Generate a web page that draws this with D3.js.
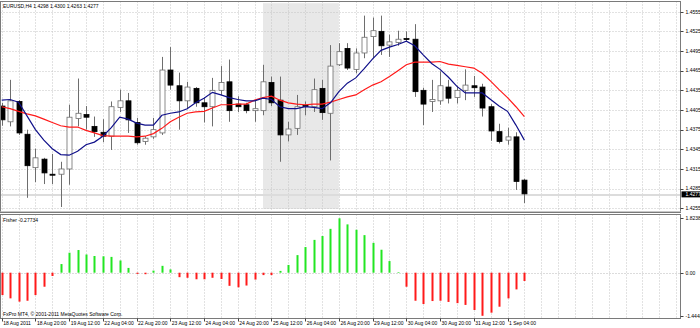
<!DOCTYPE html>
<html>
<head>
<meta charset="utf-8">
<script src="https://d3js.org/d3.v7.min.js"></script>
<style>
  body { margin: 0; background: #fff; }
  svg text { font-family: "Liberation Sans", Arial, sans-serif; font-size: 5px; fill: #000; }
</style>
</head>
<body>
<svg id="chart" width="700" height="328"></svg>
<script>
// EURUSD H4 candles, 18 Aug - 1 Sep 2011
const opens = [1.4411, 1.4387, 1.4418, 1.4368, 1.4317, 1.4330, 1.4307, 1.4307, 1.4315, 1.4392, 1.4398, 1.4380, 1.4371, 1.4365, 1.4409, 1.4419, 1.4386, 1.4357, 1.4364, 1.4370, 1.4466, 1.4442, 1.4419, 1.4438, 1.4416, 1.4410, 1.4435, 1.4448, 1.4414, 1.4413, 1.4404, 1.4404, 1.4447, 1.4420, 1.4367, 1.4377, 1.4412, 1.4410, 1.4438, 1.4400, 1.4474, 1.4499, 1.4467, 1.4492, 1.4517, 1.4525, 1.4504, 1.4508, 1.4514, 1.4513, 1.4435, 1.4418, 1.4419, 1.4440, 1.4424, 1.4435, 1.4442, 1.4440, 1.4410, 1.4372, 1.4359, 1.4364, 1.4298];
const highs = [1.4416, 1.4451, 1.4420, 1.4375, 1.4346, 1.4332, 1.4338, 1.4326, 1.4413, 1.4453, 1.4411, 1.4395, 1.4391, 1.4418, 1.4436, 1.4431, 1.4393, 1.4365, 1.4393, 1.4486, 1.4501, 1.4462, 1.4448, 1.4440, 1.4424, 1.4454, 1.4472, 1.4482, 1.4426, 1.4416, 1.4420, 1.4474, 1.4456, 1.4456, 1.4387, 1.4428, 1.4418, 1.4453, 1.4451, 1.4504, 1.4507, 1.4507, 1.4499, 1.4549, 1.4546, 1.4549, 1.4520, 1.4526, 1.4525, 1.4536, 1.4439, 1.4451, 1.4464, 1.4451, 1.4442, 1.4467, 1.4457, 1.4445, 1.4414, 1.4384, 1.4378, 1.4371, 1.4300];
const lows = [1.4381, 1.4380, 1.4367, 1.4271, 1.4295, 1.4292, 1.4292, 1.4257, 1.4291, 1.4380, 1.4375, 1.4364, 1.4356, 1.4344, 1.4402, 1.4370, 1.4352, 1.4352, 1.4361, 1.4367, 1.4436, 1.4375, 1.4408, 1.4410, 1.4386, 1.4380, 1.4428, 1.4387, 1.4402, 1.4400, 1.4387, 1.4397, 1.4411, 1.4326, 1.4357, 1.4367, 1.4397, 1.4402, 1.4390, 1.4328, 1.4472, 1.4466, 1.4461, 1.4484, 1.4484, 1.4489, 1.4486, 1.4503, 1.4510, 1.4425, 1.4382, 1.4402, 1.4413, 1.4415, 1.4415, 1.4420, 1.4425, 1.4395, 1.4358, 1.4354, 1.4352, 1.4283, 1.4263];
const closes = [1.4390, 1.4419, 1.4370, 1.4320, 1.4332, 1.4309, 1.4306, 1.4315, 1.4394, 1.4400, 1.4394, 1.4372, 1.4365, 1.4410, 1.4419, 1.4390, 1.4355, 1.4362, 1.4375, 1.4466, 1.4443, 1.4419, 1.4440, 1.4416, 1.4410, 1.4435, 1.4447, 1.4404, 1.4410, 1.4404, 1.4407, 1.4448, 1.4416, 1.4367, 1.4376, 1.4410, 1.4411, 1.4436, 1.4401, 1.4472, 1.4494, 1.4469, 1.4492, 1.4516, 1.4526, 1.4503, 1.4509, 1.4513, 1.4513, 1.4433, 1.4414, 1.4421, 1.4442, 1.4423, 1.4435, 1.4443, 1.4439, 1.4408, 1.4373, 1.4357, 1.4364, 1.4296, 1.4277];

// moving averages as drawn on the chart
const maFast = [1.4420, 1.4421, 1.4417, 1.4396, 1.4375, 1.4359, 1.4346, 1.4337, 1.4336, 1.4342, 1.4352, 1.4356, 1.4365, 1.4378, 1.4394, 1.4391, 1.4385, 1.4382, 1.4382, 1.4397, 1.4400, 1.4402, 1.4407, 1.4416, 1.4423, 1.4432, 1.4428, 1.4424, 1.4421, 1.4419, 1.4419, 1.4423, 1.4421, 1.4410, 1.4407, 1.4407, 1.4410, 1.4409, 1.4407, 1.4416, 1.4433, 1.4446, 1.4454, 1.4468, 1.4483, 1.4496, 1.4501, 1.4505, 1.4510, 1.4503, 1.4489, 1.4476, 1.4467, 1.4455, 1.4441, 1.4431, 1.4431, 1.4431, 1.4421, 1.4411, 1.4403, 1.4382, 1.4359];
const maSlow = [1.4410, 1.4407, 1.4403, 1.4399, 1.4396, 1.4391, 1.4386, 1.4381, 1.4379, 1.4379, 1.4374, 1.4370, 1.4366, 1.4365, 1.4365, 1.4365, 1.4364, 1.4365, 1.4369, 1.4377, 1.4387, 1.4394, 1.4400, 1.4402, 1.4403, 1.4408, 1.4413, 1.4413, 1.4414, 1.4414, 1.4420, 1.4424, 1.4426, 1.4420, 1.4416, 1.4414, 1.4413, 1.4414, 1.4414, 1.4417, 1.4421, 1.4425, 1.4428, 1.4436, 1.4443, 1.4448, 1.4456, 1.4465, 1.4474, 1.4478, 1.4478, 1.4478, 1.4479, 1.4475, 1.4473, 1.4471, 1.4469, 1.4461, 1.4449, 1.4436, 1.4424, 1.4410, 1.4395];

// Fisher histogram
const fisher = [-0.75, -0.86, -0.97, -0.94, -0.75, -0.47, -0.11, 0.29, 0.67, 0.76, 0.61, 0.56, 0.55, 0.53, 0.41, 0.16, -0.04, -0.05, 0.07, 0.23, 0.11, -0.15, -0.17, -0.22, -0.22, -0.17, -0.21, -0.44, -0.49, -0.43, -0.23, -0.08, -0.08, 0.06, 0.26, 0.59, 0.86, 1.10, 1.23, 1.47, 1.82388, 1.62, 1.44, 1.26, 1.00, 0.77, 0.39, 0.02, -0.47, -0.94, -1.05, -0.95, -0.94, -0.98, -1.02, -1.08, -1.25, -1.44485, -1.34, -1.14, -0.86, -0.56, -0.27734];

const priceTicks = [1.4555, 1.4525, 1.4495, 1.4465, 1.4435, 1.4405, 1.4375, 1.4345, 1.4315, 1.4285, 1.4255];
const timeLabels = ["18 Aug 2011", "18 Aug 20:00", "19 Aug 12:00", "22 Aug 04:00", "22 Aug 20:00", "23 Aug 12:00", "24 Aug 04:00", "24 Aug 20:00", "25 Aug 12:00", "26 Aug 04:00", "26 Aug 20:00", "29 Aug 12:00", "30 Aug 04:00", "30 Aug 20:00", "31 Aug 12:00", "1 Sep 04:00"];
const fisherTicks = [1.82388, 0, -1.44485];
const highlightBars = [31, 40];
const highlightPrices = [1.4254, 1.4568];
const lastPrice = 1.4277;

const svg = d3.select("#chart");
const plotL = 0.5, plotR = 680.5;
const mainTop = 1.5, mainBot = 212.5, subTop = 214.5, subBot = 318.5;

const candles = opens.map((o, i) => ({ i, o, h: highs[i], l: lows[i], c: closes[i] }));

const x = d3.scaleLinear().domain([0, 80]).range([1.7, 1.7 + 8.43 * 80]);
const y = d3.scaleLinear().domain([1.4255, 1.4555]).range([208.3, 11.7]);
const yF = d3.scaleLinear().domain([-1.44485, 1.82388]).range([315.8, 218.3]);

svg.append("rect").attr("width", 700).attr("height", 328).attr("fill", "#fff");

svg.append("clipPath").attr("id", "mainClip")
  .append("rect").attr("x", plotL).attr("y", mainTop).attr("width", plotR - plotL).attr("height", mainBot - mainTop);
svg.append("clipPath").attr("id", "subClip")
  .append("rect").attr("x", plotL).attr("y", subTop).attr("width", plotR - plotL).attr("height", subBot - subTop);

const main = svg.append("g").attr("clip-path", "url(#mainClip)");
const sub = svg.append("g").attr("clip-path", "url(#subClip)");

// shaded period
main.append("rect")
  .attr("x", x(highlightBars[0]))
  .attr("width", x(highlightBars[1]) - x(highlightBars[0]))
  .attr("y", y(highlightPrices[1]))
  .attr("height", y(highlightPrices[0]) - y(highlightPrices[1]))
  .attr("fill", "#e8e8e8");

// grid
const vGrid = d3.range(0, 81, 2);
[[main, mainTop, mainBot], [sub, subTop, subBot]].forEach(([g, t, b]) => {
  g.selectAll(null).data(vGrid).join("line")
    .attr("x1", d => Math.round(x(d)) + 0.5).attr("x2", d => Math.round(x(d)) + 0.5)
    .attr("y1", t).attr("y2", b)
    .attr("stroke", "#c4c4c4").attr("stroke-width", 1).attr("stroke-dasharray", "1,2");
});
main.selectAll(null).data(priceTicks).join("line")
  .attr("x1", plotL).attr("x2", plotR)
  .attr("y1", d => Math.round(y(d)) + 0.5).attr("y2", d => Math.round(y(d)) + 0.5)
  .attr("stroke", "#c4c4c4").attr("stroke-dasharray", "1,2");
sub.append("line")
  .attr("x1", plotL).attr("x2", plotR)
  .attr("y1", Math.round(yF(0)) + 0.5).attr("y2", Math.round(yF(0)) + 0.5)
  .attr("stroke", "#b8b8b8").attr("stroke-dasharray", "1,2");

// bid line
main.append("line")
  .attr("x1", plotL).attr("x2", plotR)
  .attr("y1", y(lastPrice) + 1).attr("y2", y(lastPrice) + 1)
  .attr("stroke", "#dcdcdc").attr("stroke-width", 2);

// candles
main.selectAll(".wick").data(candles).join("line")
  .attr("class", "wick")
  .attr("x1", d => Math.round(x(d.i)) + 0.5).attr("x2", d => Math.round(x(d.i)) + 0.5)
  .attr("y1", d => y(d.h)).attr("y2", d => y(d.l))
  .attr("stroke", "#6e6e6e").attr("stroke-width", 1);

main.selectAll(".body").data(candles).join("rect")
  .attr("class", "body")
  .attr("x", d => Math.round(x(d.i)) - 2)
  .attr("width", 5)
  .attr("y", d => y(Math.max(d.o, d.c)))
  .attr("height", d => Math.max(1, Math.abs(y(d.o) - y(d.c))))
  .attr("fill", d => d.c >= d.o ? "#fff" : "#000")
  .attr("stroke", d => d.c >= d.o ? "#6e6e6e" : "#000")
  .attr("stroke-width", 0.8);

const line = d3.line().x((d, i) => x(i)).y(d => y(d));
main.append("path").datum(maSlow).attr("d", line)
  .attr("fill", "none").attr("stroke", "#ff1a1a").attr("stroke-width", 1.2);
main.append("path").datum(maFast).attr("d", line)
  .attr("fill", "none").attr("stroke", "#10108a").attr("stroke-width", 1.2);

// fisher histogram
sub.selectAll(".fb").data(fisher).join("rect")
  .attr("class", "fb")
  .attr("x", (d, i) => Math.round(x(i)) - 0.5)
  .attr("width", 2)
  .attr("y", d => Math.min(yF(d), yF(0)))
  .attr("height", d => Math.abs(yF(d) - yF(0)))
  .attr("fill", d => d >= 0 ? "#22e622" : "#ff1a1a");

// frames
svg.append("rect").attr("x", plotL).attr("y", mainTop).attr("width", plotR - plotL).attr("height", mainBot - mainTop)
  .attr("fill", "none").attr("stroke", "#7a7a7a");
svg.append("line").attr("x1", plotL).attr("x2", plotR).attr("y1", mainBot - 1).attr("y2", mainBot - 1)
  .attr("stroke", "#c8c8c8");
svg.append("rect").attr("x", plotL).attr("y", subTop).attr("width", plotR - plotL).attr("height", subBot - subTop)
  .attr("fill", "none").attr("stroke", "#7a7a7a");

// price axis
const pAxis = svg.append("g");
pAxis.selectAll("line").data(priceTicks).join("line")
  .attr("x1", plotR).attr("x2", plotR + 3)
  .attr("y1", d => Math.round(y(d)) + 0.5).attr("y2", d => Math.round(y(d)) + 0.5)
  .attr("stroke", "#444");
pAxis.selectAll("text").data(priceTicks).join("text")
  .attr("x", plotR + 5).attr("y", d => y(d) + 1.8)
  .text(d => d.toFixed(4));

pAxis.append("rect").attr("x", plotR + 1).attr("y", y(lastPrice) - 2.5)
  .attr("width", 20).attr("height", 6).attr("fill", "#000");
pAxis.append("text").attr("x", plotR + 5).attr("y", y(lastPrice) + 2)
  .style("fill", "#fff").text(lastPrice.toFixed(4));

// fisher axis
const fAxis = svg.append("g");
fAxis.selectAll("line").data(fisherTicks).join("line")
  .attr("x1", plotR).attr("x2", plotR + 3)
  .attr("y1", d => Math.round(yF(d)) + 0.5).attr("y2", d => Math.round(yF(d)) + 0.5)
  .attr("stroke", "#444");
fAxis.selectAll("text").data(fisherTicks).join("text")
  .attr("x", plotR + 5).attr("y", d => yF(d) + 1.8)
  .text(d => d === 0 ? "0.00" : d.toFixed(5));

// time axis
const tAxis = svg.append("g");
tAxis.selectAll("line").data(timeLabels).join("line")
  .attr("x1", (d, i) => Math.round(x(i * 4)) + 0.5).attr("x2", (d, i) => Math.round(x(i * 4)) + 0.5)
  .attr("y1", subBot).attr("y2", subBot + 3)
  .attr("stroke", "#444");
tAxis.selectAll("text").data(timeLabels).join("text")
  .attr("x", (d, i) => x(i * 4) + 1.5).attr("y", 325.2)
  .text(d => d);

// labels
svg.append("text").attr("x", 3).attr("y", 7.5)
  .text("EURUSD,H4  1.4298 1.4300 1.4263 1.4277");
svg.append("text").attr("x", 3).attr("y", 221.5)
  .text("Fisher -0.27734");
svg.append("text").attr("x", 3).attr("y", 315.5)
  .text("FxPro MT4, \u00a9 2001-2011 MetaQuotes Software Corp.");
</script>
</body>
</html>
